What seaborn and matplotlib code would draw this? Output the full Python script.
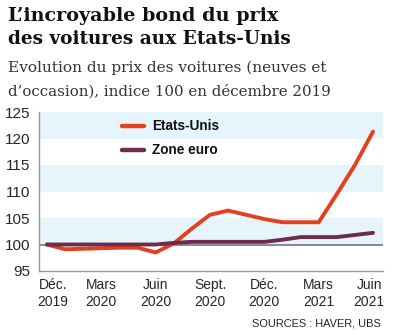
import matplotlib
matplotlib.use("Agg")
import matplotlib.pyplot as plt
import matplotlib.transforms as mtransforms
import seaborn as sns
import pandas as pd
import numpy as np

months = list(range(19))  # Dec 2019 .. Jun 2021
us = [100, 99.1, 99.2, 99.3, 99.4, 99.4, 98.5, 100.2, 103.0, 105.6, 106.4, 105.6,
      104.8, 104.2, 104.2, 104.2, 109.5, 115.0, 121.3]
euro = [100, 100, 100, 100, 100, 100, 100, 100.3, 100.5, 100.5, 100.5, 100.5,
        100.5, 100.9, 101.4, 101.4, 101.4, 101.8, 102.2]
series_names = ["Etats-Unis", "Zone euro"]
tick_pos = [0, 3, 6, 9, 12, 15, 18]
tick_labels = ["Déc.\n2019", "Mars\n2020", "Juin\n2020", "Sept.\n2020",
               "Déc.\n2020", "Mars\n2021", "Juin\n2021"]
y_ticks = [95, 100, 105, 110, 115, 120, 125]
title_lines = ["L’incroyable bond du prix", "des voitures aux Etats-Unis"]
subtitle_lines = ["Evolution du prix des voitures (neuves et",
                  "d’occasion), indice 100 en décembre 2019"]
source = "SOURCES : HAVER, UBS"

df = pd.DataFrame({
    "mois": months * 2,
    "indice": us + euro,
    "serie": [series_names[0]] * len(us) + [series_names[1]] * len(euro),
})

sns.set_style("white")
narrow = ["Liberation Sans Narrow", "Liberation Sans", "DejaVu Sans"]
serif = ["DejaVu Serif"]

W, H = 394, 332
fig = plt.figure(figsize=(W / 100, H / 100), dpi=100)
ax = fig.add_axes([39 / W, 1 - 271 / H, (383 - 39) / W, (271 - 112) / H])

for lo in (100, 110, 120):
    ax.axhspan(lo, lo + 5, color="#E6F5FC", zorder=0, lw=0)
ax.axhline(100, color="#777777", lw=1.2, zorder=1)

palette = {"Etats-Unis": "#E5401B", "Zone euro": "#6E2B4B"}
sns.lineplot(data=df, x="mois", y="indice", hue="serie", palette=palette,
             linewidth=2.8, ax=ax, legend=False, zorder=3)
for l in ax.lines:
    l.set_solid_capstyle("round")
    l.set_solid_joinstyle("miter")

ax.set_xlim(-0.44, 18.55)
ax.set_ylim(95, 125)
ax.set_xticks(tick_pos)
ax.set_xticklabels(tick_labels, fontfamily=narrow, fontsize=10, linespacing=1.3)
ax.set_yticks(y_ticks)
ax.set_yticklabels([str(v) for v in y_ticks], fontfamily=narrow, fontsize=11)
ax.tick_params(axis="x", length=0, pad=5)
ax.tick_params(axis="y", length=6, width=1, color="#888888", pad=0.5)
ax.set_xlabel("")
ax.set_ylabel("")
for s in ("top", "right"):
    ax.spines[s].set_visible(False)
for s in ("left", "bottom"):
    ax.spines[s].set_color("#999999")
    ax.spines[s].set_linewidth(1)

# nudge the end labels inward as in the original
xt = ax.get_xticklabels()
xt[0].set_transform(xt[0].get_transform() +
                    mtransforms.ScaledTranslation(6 / 100, 0, fig.dpi_scale_trans))
xt[-1].set_transform(xt[-1].get_transform() +
                     mtransforms.ScaledTranslation(-4 / 100, 0, fig.dpi_scale_trans))

# legend
leg_y = [122.4, 117.8]
for name, yv in zip(series_names, leg_y):
    ax.plot([4.15, 5.35], [yv, yv], color=palette[name], lw=3.2,
            solid_capstyle="round", zorder=4)
    ax.text(5.8, yv, name, fontfamily=narrow, fontweight="bold", fontsize=9.8,
            va="center", ha="left", color="#111111")

renderer = fig.canvas.get_renderer()


def fit_text(txt, x_px, base_px, width_px, **kw):
    t = fig.text(x_px / W, 1 - base_px / H, txt, va="baseline", ha="left", **kw)
    size = kw.get("fontsize", 12)
    w = t.get_window_extent(renderer).width
    t.set_fontsize(size * width_px / w)
    return t


fit_text(title_lines[0], 8, 21, 270, fontfamily=serif, fontweight="bold",
         fontsize=14, color="#111111")
fit_text(title_lines[1], 8, 44, 284, fontfamily=serif, fontweight="bold",
         fontsize=14, color="#111111")
fit_text(subtitle_lines[0], 8, 72, 319, fontfamily=serif, fontsize=11,
         color="#333333")
fit_text(subtitle_lines[1], 8, 96, 322, fontfamily=serif, fontsize=11,
         color="#333333")
fig.text(381 / W, 1 - 327 / H, source, fontfamily=narrow, fontsize=7.9,
         ha="right", va="baseline", color="#222222")

fig.savefig("out.png", dpi=100)
